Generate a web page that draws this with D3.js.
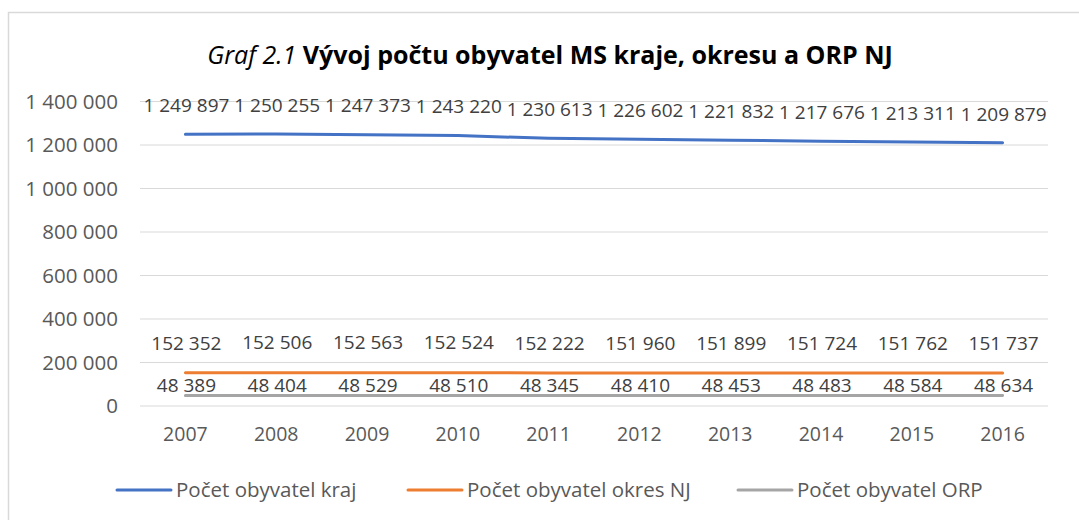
<!DOCTYPE html>
<html><head><meta charset="utf-8">
<script src="https://cdn.jsdelivr.net/npm/d3@7"></script>
<style>
html,body{margin:0;padding:0;background:#fff;}
svg{display:block;font-family:"Open Sans",sans-serif;}
</style></head>
<body>
<svg id="c" width="1079" height="520"></svg>
<script>
const years = ["2007","2008","2009","2010","2011","2012","2013","2014","2015","2016"];
const kraj  = [1249897,1250255,1247373,1243220,1230613,1226602,1221832,1217676,1213311,1209879];
const okres = [152352,152506,152563,152524,152222,151960,151899,151724,151762,151737];
const orp   = [48389,48404,48529,48510,48345,48410,48453,48483,48584,48634];
const seriesNames = ["Počet obyvatel kraj","Počet obyvatel okres NJ","Počet obyvatel ORP"];
const yTicks = [0,200000,400000,600000,800000,1000000,1200000,1400000];

const FONT = "'Open Sans',sans-serif";
const colors = ["#4472C4","#ED7D31","#A5A5A5"];
const labelOffsets = [-29,-30,-10];
const svg = d3.select("#c");
const fmt = v => d3.format(",")(v).replace(/,/g," ");

// outer border
svg.append("path").attr("d","M8.5,520 V12.5 H1079").attr("fill","none").attr("stroke","#d9d9d9").attr("stroke-width",1.5);

// title
const t = svg.append("text").attr("x",550).attr("y",64).attr("text-anchor","middle")
  .attr("font-size",25).attr("fill","#000");
t.append("tspan").attr("font-style","italic").text("Graf 2.1 ");
t.append("tspan").attr("font-weight","bold").text("Vývoj počtu obyvatel MS kraje, okresu a ORP NJ");

const x = d3.scaleBand().domain(years).range([140,1048]);
const y = d3.scaleLinear().domain([0,1400000]).range([406,101.5]);

// gridlines
svg.append("g").selectAll("line").data(yTicks).join("line")
  .attr("x1",140).attr("x2",1048).attr("y1",d=>y(d)).attr("y2",d=>y(d))
  .attr("stroke","#d9d9d9").attr("stroke-width",1);

// y axis
const ya = svg.append("g").attr("transform","translate(140,0)")
  .call(d3.axisLeft(y).tickValues(yTicks).tickFormat(fmt).tickSize(0).tickPadding(22));
ya.select(".domain").remove();
ya.selectAll("text").attr("font-size",20.5).attr("fill","#595959").attr("font-family",FONT);

// x axis
const xa = svg.append("g").attr("transform","translate(0,406)")
  .call(d3.axisBottom(x).tickSize(0).tickPadding(21));
xa.select(".domain").remove();
xa.selectAll("text").attr("font-size",19.5).attr("fill","#595959").attr("font-family",FONT);

const cx = d => x(d) + x.bandwidth()/2;
const data = [kraj,okres,orp];
const line = d3.line().x((d,i)=>cx(years[i])).y(d=>y(d));

data.forEach((s,k)=>{
  svg.append("path").datum(s).attr("d",line).attr("fill","none")
    .attr("stroke",colors[k]).attr("stroke-width",3).attr("stroke-linecap","round");
});
data.forEach((s,k)=>{
  svg.append("g").selectAll("text").data(s).join("text")
    .attr("x",(d,i)=>cx(years[i])+1).attr("y",d=>y(d)+labelOffsets[k])
    .attr("dy","0.35em").attr("text-anchor","middle")
    .attr("font-size",19).attr("fill","#404040").text(fmt);
});

// legend
const legX = [117,408,738];
seriesNames.forEach((n,k)=>{
  const g = svg.append("g");
  g.append("line").attr("x1",legX[k]).attr("x2",legX[k]+54).attr("y1",490).attr("y2",490)
    .attr("stroke",colors[k]).attr("stroke-width",3).attr("stroke-linecap","round");
  g.append("text").attr("x",legX[k]+59).attr("y",490).attr("dy","0.35em")
    .attr("font-size",20.5).attr("fill","#595959").text(n);
});
</script>
</body></html>
